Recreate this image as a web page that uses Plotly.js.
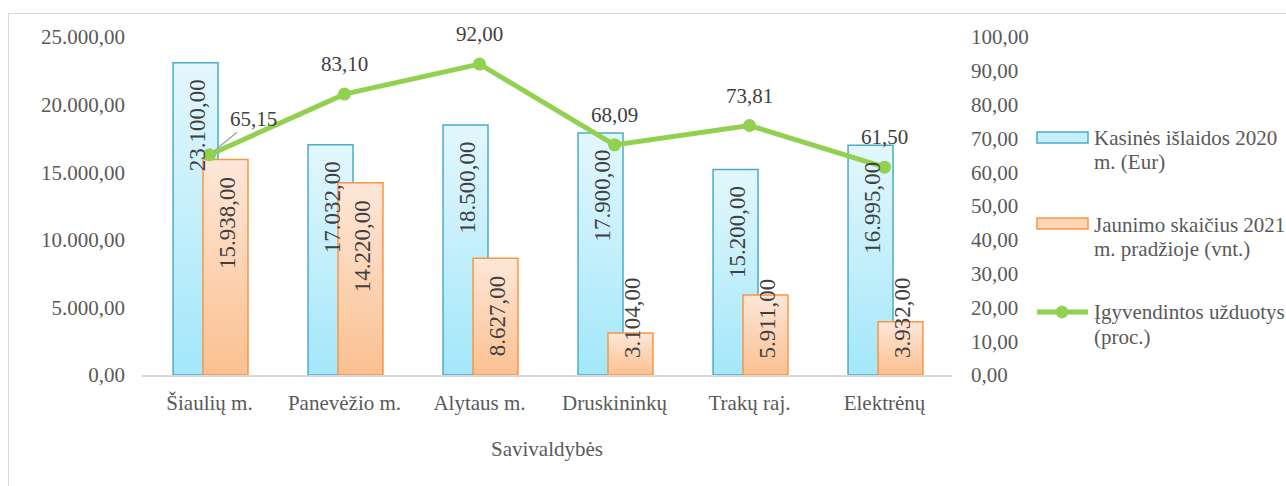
<!DOCTYPE html>
<html>
<head>
<meta charset="utf-8">
<script src="https://cdn.plot.ly/plotly-3.0.1.min.js"></script>
<style>
  html, body { margin: 0; padding: 0; background: #ffffff; overflow: hidden; }
  #frame { position: absolute; left: 8px; top: 13px; width: 1400px; height: 600px; border: 1px solid #d9d9d9; }
  #chart { position: absolute; left: 0; top: 0; width: 1286px; height: 486px; }
</style>
</head>
<body>
<div id="frame"></div>
<div id="chart"></div>
<script>
// ---- data ----
const categories = ['Šiaulių m.', 'Panevėžio m.', 'Alytaus m.', 'Druskininkų', 'Trakų raj.', 'Elektrėnų'];
const kasinesIslaidos = [23100, 17032, 18500, 17900, 15200, 16995];
const jaunimoSkaicius = [15938, 14220, 8627, 3104, 5911, 3932];
const igyvendintos = [65.15, 83.10, 92.00, 68.09, 73.81, 61.50];
const seriesNames = ['Kasinės išlaidos 2020 m. (Eur)', 'Jaunimo skaičius 2021 m. pradžioje (vnt.)', 'Įgyvendintos užduotys (proc.)'];
const legendLines = [['Kasinės išlaidos 2020', 'm. (Eur)'], ['Jaunimo skaičius 2021', 'm. pradžioje (vnt.)'], ['Įgyvendintos užduotys', '(proc.)']];
const xTitle = 'Savivaldybės';

// ---- layout geometry (styles) ----
const W = 1286, H = 486;
const M = { l: 142, r: 334, t: 37, b: 111 };
const PW = W - M.l - M.r, PH = H - M.t - M.b;
const Y1MAX = 25000, Y2MAX = 100;
const FONT = 'Liberation Serif';
const catW = PW / categories.length;
const barW = 0.333, offBlue = -0.27, offOrange = -0.048;
const blue = '#4bacc6', orange = '#f79646', green = '#92d050';

function fmt(v) {
  const s = v.toFixed(2).split('.');
  return s[0].replace(/\B(?=(\d{3})+(?!\d))/g, '.') + ',' + s[1];
}
const px2x = px => (px - M.l) / PW;
const px2y = py => (M.t + PH - py) / PH;

const traces = [
  { type: 'bar', name: seriesNames[0], x: categories, y: kasinesIslaidos, offset: offBlue, width: barW,
    marker: { color: '#c4effb', line: { color: blue, width: 1.5 } }, hoverinfo: 'x+y', showlegend: false },
  { type: 'bar', name: seriesNames[1], x: categories, y: jaunimoSkaicius, offset: offOrange, width: barW,
    marker: { color: '#fcd6b6', line: { color: orange, width: 1.5 } }, hoverinfo: 'x+y', showlegend: false },
  { type: 'scatter', mode: 'lines+markers', name: seriesNames[2], x: categories, y: igyvendintos, yaxis: 'y2',
    line: { color: green, width: 5 }, marker: { color: green, size: 13 }, showlegend: false, cliponaxis: false }
];

const annotations = [];
// bar value labels (rotated)
function barLabels(vals, off) {
  vals.forEach((v, i) => {
    const txt = fmt(v);
    const digits = txt.replace(/[^0-9]/g, '').length;
    const textLen = (digits * 0.5 + (txt.length - digits) * 0.25) * 23;
    const barPx = v / Y1MAX * PH;
    const fits = barPx >= textLen + 30;
    annotations.push({
      x: categories[i], xref: 'x', y: fits ? v : 0, yref: 'y',
      xshift: (off + barW / 2) * catW + 2,
      yanchor: fits ? 'top' : 'bottom', yshift: fits ? -15 : 15,
      text: txt, textangle: -90, showarrow: false,
      font: { family: FONT, size: 23, color: '#404040' }
    });
  });
}
barLabels(kasinesIslaidos, offBlue);
barLabels(jaunimoSkaicius, offOrange);

// line value labels
igyvendintos.forEach((v, i) => {
  if (i === 0) {
    annotations.push({
      x: categories[i], xref: 'x', y: v, yref: 'y2', text: fmt(v), showarrow: true,
      ax: 44, ay: -36, arrowhead: 0, arrowwidth: 1.5, arrowcolor: '#a6a6a6', standoff: 6,
      font: { family: FONT, size: 21, color: '#404040' }
    });
  } else {
    annotations.push({
      x: categories[i], xref: 'x', y: v, yref: 'y2', yanchor: 'middle', yshift: 30,
      text: fmt(v), showarrow: false,
      font: { family: FONT, size: 21, color: '#404040' }
    });
  }
});

// custom legend
const legendY = [[138, 162], [225, 249], [312, 337]];
const shapes = [];
shapes.push({ type: 'rect', xref: 'paper', yref: 'paper', x0: px2x(1037), x1: px2x(1088), y0: px2y(143), y1: px2y(132),
  fillcolor: '#c4effb', line: { color: blue, width: 1.5 } });
shapes.push({ type: 'rect', xref: 'paper', yref: 'paper', x0: px2x(1037), x1: px2x(1088), y0: px2y(229), y1: px2y(218),
  fillcolor: '#fcd6b6', line: { color: orange, width: 1.5 } });
shapes.push({ type: 'line', xref: 'paper', yref: 'paper', x0: px2x(1037), x1: px2x(1088), y0: px2y(312), y1: px2y(312),
  line: { color: green, width: 5 } });
shapes.push({ type: 'circle', xref: 'paper', yref: 'paper', x0: px2x(1056), x1: px2x(1068), y0: px2y(318), y1: px2y(306),
  fillcolor: green, line: { color: green, width: 1 } });
legendLines.forEach((lines, k) => {
  lines.forEach((t, j) => {
    annotations.push({ xref: 'paper', yref: 'paper', x: px2x(1092), y: px2y(legendY[k][j]), xanchor: 'left', yanchor: 'middle',
      text: t, showarrow: false, align: 'left', font: { family: FONT, size: 21, color: '#595959' } });
  });
});

const layout = {
  width: W, height: H,
  margin: M,
  paper_bgcolor: 'rgba(0,0,0,0)', plot_bgcolor: 'rgba(0,0,0,0)',
  separators: ',.',
  font: { family: FONT, size: 21, color: '#595959' },
  barmode: 'overlay',
  showlegend: false,
  xaxis: {
    type: 'category', range: [-0.5, categories.length - 0.5],
    showline: true, linecolor: '#d9d9d9', linewidth: 1.5, ticks: '', showgrid: false,
    tickfont: { family: FONT, size: 21, color: '#595959' }, ticklabelstandoff: 8,
    title: { text: xTitle, font: { family: FONT, size: 21, color: '#595959' }, standoff: 27 }
  },
  yaxis: {
    range: [0, Y1MAX], dtick: 5000, tickformat: ',.2f', showgrid: false, zeroline: false, showline: false,
    ticks: '', ticklabelstandoff: 16, tickfont: { family: FONT, size: 21, color: '#595959' }
  },
  yaxis2: {
    range: [0, Y2MAX], dtick: 10, tickformat: ',.2f', overlaying: 'y', side: 'right', showgrid: false, zeroline: false,
    showline: false, ticks: '', ticklabelstandoff: 18, tickfont: { family: FONT, size: 21, color: '#595959' }
  },
  annotations: annotations,
  shapes: shapes
};

Plotly.newPlot('chart', traces, layout, { displayModeBar: false, staticPlot: true }).then(gd => {
  // gradient fills for bars, like the original
  const svg = gd.querySelector('svg.main-svg');
  const NS = 'http://www.w3.org/2000/svg';
  let defs = svg.querySelector('defs');
  if (!defs) { defs = document.createElementNS(NS, 'defs'); svg.insertBefore(defs, svg.firstChild); }
  function grad(id, top, bottom) {
    const g = document.createElementNS(NS, 'linearGradient');
    g.setAttribute('id', id); g.setAttribute('x1', '0'); g.setAttribute('y1', '0'); g.setAttribute('x2', '0'); g.setAttribute('y2', '1');
    [[0, top], [1, bottom]].forEach(([o, c]) => {
      const s = document.createElementNS(NS, 'stop');
      s.setAttribute('offset', o); s.setAttribute('stop-color', c);
      g.appendChild(s);
    });
    defs.appendChild(g);
  }
  grad('gBlue', '#e3f7fd', '#a3e7fa');
  grad('gOrange', '#fde7d9', '#fbc090');
  const barTraces = gd.querySelectorAll('.barlayer .trace');
  const ids = ['gBlue', 'gOrange'];
  barTraces.forEach((t, k) => {
    t.querySelectorAll('path').forEach(p => { p.style.fill = 'url(#' + ids[k] + ')'; });
  });
});
</script>
</body>
</html>
